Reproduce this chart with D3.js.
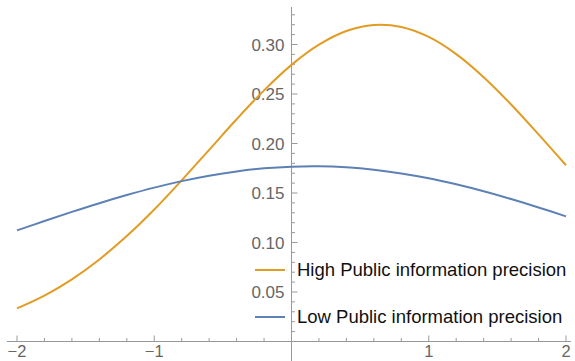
<!DOCTYPE html>
<html><head><meta charset="utf-8">
<script src="https://cdn.jsdelivr.net/npm/d3@7"></script>
<style>body{margin:0;background:#fff}svg{display:block}</style>
</head><body>
<script>
const xs = [-2,-1.8,-1.6,-1.4,-1.2,-1.0,-0.8,-0.6,-0.4,-0.2,0,0.2,0.4,0.6,0.8,1.0,1.2,1.4,1.6,1.8,2.0];
const highValues = [0.0335,0.0464,0.0628,0.0829,0.1065,0.1333,0.1628,0.1936,0.2245,0.2537,0.2794,0.2998,0.3136,0.3197,0.3177,0.3076,0.2903,0.2670,0.2394,0.2092,0.1780];
const lowValues = [0.1122,0.1217,0.1309,0.1397,0.1479,0.1554,0.1620,0.1675,0.1718,0.1749,0.1766,0.1770,0.1759,0.1735,0.1698,0.1649,0.1588,0.1518,0.1439,0.1354,0.1264];
const seriesNames = ["High Public information precision","Low Public information precision"];
const colors = ["#E19C24","#5E81B5"];
const xTicks = [-2,-1,1,2];
const yTicks = [0.05,0.10,0.15,0.20,0.25,0.30];

const W=575,H=361;
const svg=d3.select("body").append("svg").attr("width",W).attr("height",H);
const x=d3.scaleLinear().domain([-2,2]).range([17,566]);
const y=d3.scaleLinear().domain([0,0.30]).range([341.5,44.5]);
const axisCol="#999999", labCol="#666666";
const font="Liberation Sans, Arial, sans-serif";

// x axis
svg.append("line").attr("x1",7).attr("x2",571).attr("y1",y(0)).attr("y2",y(0)).attr("stroke",axisCol).attr("stroke-width",1);
for(let v=-2;v<=2.001;v+=0.2){
  const major=Math.abs(v-Math.round(v))<1e-6;
  svg.append("line").attr("x1",x(v)).attr("x2",x(v)).attr("y1",y(0)).attr("y2",y(0)-(major?6:3.5)).attr("stroke",axisCol);
}
svg.selectAll(".xl").data(xTicks).enter().append("text").attr("x",d=>x(d)).attr("y",357)
  .attr("text-anchor","middle").attr("fill",labCol).style("font-family",font).style("font-size","16.5px")
  .text(d=>d<0?"\u2212"+Math.abs(d):d);
// y axis
svg.append("line").attr("x1",x(0)).attr("x2",x(0)).attr("y1",7).attr("y2",361).attr("stroke",axisCol);
for(let i=1;i<=33;i++){
  const v=i*0.01;
  const major=i%5===0;
  svg.append("line").attr("x1",x(0)).attr("x2",x(0)+(major?6:3.5)).attr("y1",y(v)).attr("y2",y(v)).attr("stroke",axisCol);
}
svg.selectAll(".yl").data(yTicks).enter().append("text").attr("x",x(0)-7).attr("y",d=>y(d)+6)
  .attr("text-anchor","end").attr("fill",labCol).style("font-family",font).style("font-size","17px")
  .text(d=>d.toFixed(2));

const line=d3.line().x((d,i)=>x(xs[i])).y(d=>y(d)).curve(d3.curveCatmullRom);
[highValues,lowValues].forEach((vals,k)=>{
  svg.append("path").attr("d",line(vals)).attr("fill","none").attr("stroke",colors[k]).attr("stroke-width",2);
});

// legend
const ly=[270,317];
seriesNames.forEach((n,k)=>{
  svg.append("line").attr("x1",255).attr("x2",285).attr("y1",ly[k]).attr("y2",ly[k]).attr("stroke",colors[k]).attr("stroke-width",2);
  svg.append("text").attr("x",297).attr("y",ly[k]+6).attr("fill","#111")
    .style("font-family",font).style("font-size","18.5px").text(n);
});
</script>
</body></html>
